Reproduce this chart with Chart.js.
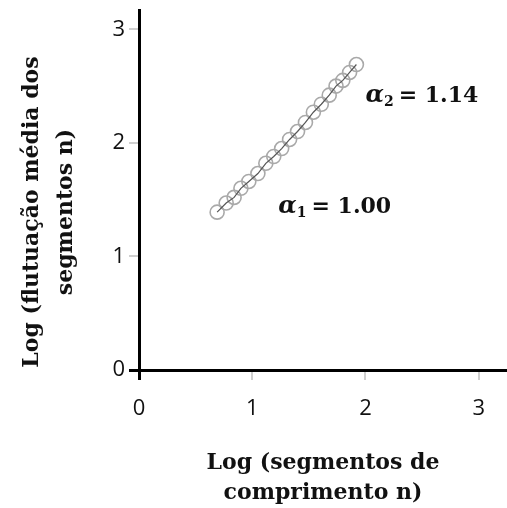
<!DOCTYPE html>
<html lang="pt">

<head>
  <meta charset="UTF-8">
  <title>DFA log-log</title>
  <style>
    html, body {
      margin: 0;
      padding: 0;
      background: #fff;
    }

    canvas {
      display: block;
    }
  </style>
  <script src="https://cdn.jsdelivr.net/npm/chart.js"></script>
</head>

<body>
  <canvas id="dfaChart" width="507" height="508"></canvas>
  <script>
    // Log (segmentos de comprimento n) e Log (flutuação média)
    const logN = [0.69, 0.77, 0.84, 0.90, 0.97, 1.05, 1.12, 1.19, 1.26, 1.33, 1.40, 1.47, 1.54, 1.61, 1.68, 1.74, 1.80, 1.86, 1.92];
    const logF = [1.39, 1.47, 1.52, 1.60, 1.66, 1.73, 1.82, 1.88, 1.95, 2.03, 2.10, 2.18, 2.27, 2.34, 2.42, 2.50, 2.55, 2.62, 2.69];
    const tickValues = [0, 1, 2, 3];
    const alphaNames = ['1', '2'];
    const alphaValues = ['1.00', '1.14'];

    const xTitle = ['Log (segmentos de', 'comprimento n)'];
    const yTitle = ['Log (flutuação média dos', 'segmentos n)'];

    // onde ficam os rótulos alfa (em unidades dos eixos)
    const alphaAt = [[1.23, 1.38], [2.0, 2.36]];

    const serif = "'DejaVu Serif', serif";
    const tickFont = { family: "'Open Sans', sans-serif", size: 22 };

    const points = logN.map((v, i) => ({ x: v, y: logF[i] }));

    // rótulos alfa e título vertical desenhados à mão
    const textPlugin = {
      id: 'textPlugin',
      afterDraw(chart) {
        const ctx = chart.ctx;
        const xs = chart.scales.x, ys = chart.scales.y;
        ctx.save();
        ctx.fillStyle = '#111';
        ctx.textBaseline = 'alphabetic';
        ctx.textAlign = 'left';
        alphaAt.forEach((pos, i) => {
          let px = xs.getPixelForValue(pos[0]);
          const py = ys.getPixelForValue(pos[1]);
          ctx.font = 'bold italic 24px ' + serif;
          ctx.fillText('α', px, py);
          px += ctx.measureText('α').width;
          ctx.font = 'bold 14px ' + serif;
          ctx.fillText(alphaNames[i], px, py + 4);
          px += ctx.measureText(alphaNames[i]).width + 5;
          ctx.font = 'bold 22px ' + serif;
          ctx.fillText('= ' + alphaValues[i], px, py);
        });

        // título do eixo y, duas linhas giradas
        ctx.font = 'bold 22px ' + serif;
        ctx.textAlign = 'center';
        const yc = 212;
        [38, 72].forEach((bx, i) => {
          ctx.save();
          ctx.translate(bx, yc);
          ctx.rotate(-Math.PI / 2);
          ctx.fillText(yTitle[i], 0, 0);
          ctx.restore();
        });
        ctx.restore();
      }
    };

    function tickColor(ctx) {
      return ctx.tick && ctx.tick.value === 0 ? '#000' : '#cfcfcf';
    }

    function tickWidth(ctx) {
      return ctx.tick && ctx.tick.value === 0 ? 3 : 2;
    }

    new Chart(document.getElementById('dfaChart').getContext('2d'), {
      type: 'scatter',
      data: {
        datasets: [
          {
            type: 'line',
            data: points,
            borderColor: '#555',
            borderWidth: 1.2,
            pointRadius: 0,
            fill: false
          },
          {
            data: points,
            pointRadius: 7,
            pointHoverRadius: 7,
            pointBorderWidth: 1.6,
            pointBorderColor: '#a9a9a9',
            pointBackgroundColor: 'rgba(255,255,255,0)'
          }
        ]
      },
      options: {
        responsive: false,
        animation: false,
        events: [],
        layout: { autoPadding: false, padding: { top: 10, right: 0, bottom: 0, left: 0 } },
        plugins: {
          legend: { display: false },
          tooltip: { enabled: false }
        },
        scales: {
          x: {
            type: 'linear',
            min: 0,
            max: 3.25,
            afterFit(scale) {
              scale.height = 138;
              scale.paddingLeft = 0;
              scale.paddingRight = 0;
            },
            afterBuildTicks(scale) { scale.ticks = tickValues.map(v => ({ value: v })); },
            border: { color: '#000', width: 3 },
            grid: {
              drawOnChartArea: false,
              tickLength: 10,
              color: tickColor,
              lineWidth: tickWidth
            },
            ticks: {
              color: '#111',
              font: tickFont,
              padding: 16,
              maxRotation: 0
            },
            title: {
              display: true,
              text: xTitle,
              color: '#111',
              font: { family: serif, size: 22, weight: 'bold', lineHeight: 1.36 },
              padding: 0
            }
          },
          y: {
            type: 'linear',
            min: 0,
            max: 3.17,
            afterFit(scale) {
              scale.width = 139;
              scale.paddingTop = 0;
              scale.paddingBottom = 0;
            },
            afterBuildTicks(scale) { scale.ticks = tickValues.map(v => ({ value: v })); },
            border: { color: '#000', width: 3 },
            grid: {
              drawOnChartArea: false,
              tickLength: 10,
              color: tickColor,
              lineWidth: tickWidth
            },
            ticks: {
              color: '#111',
              font: tickFont,
              padding: 4
            }
          }
        }
      },
      plugins: [textPlugin]
    });
  </script>
</body>

</html>
